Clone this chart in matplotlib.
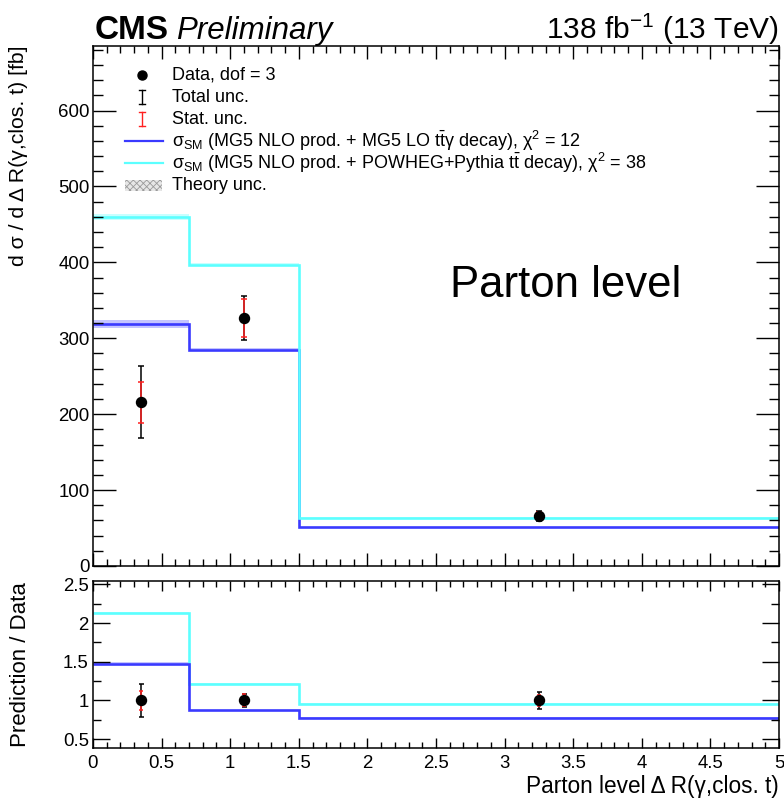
import numpy as np
import matplotlib
matplotlib.use("Agg")
import matplotlib.pyplot as plt
from matplotlib.patches import Rectangle
from matplotlib.lines import Line2D
from matplotlib.ticker import MultipleLocator, FixedLocator, FuncFormatter

plt.rcParams['font.family'] = ['Liberation Sans', 'DejaVu Sans']
plt.rcParams['mathtext.fontset'] = 'custom'
plt.rcParams['mathtext.rm'] = 'Liberation Sans'
plt.rcParams['mathtext.it'] = 'Liberation Sans:italic'
plt.rcParams['mathtext.bf'] = 'Liberation Sans:bold'
plt.rcParams['hatch.linewidth'] = 0.6

# ---- data -------------------------------------------------------------
bin_edges = [0.0, 0.7, 1.5, 5.0]
data_xsec = [216, 327, 66]          # fb
data_total_unc = [47, 29, 7]
data_stat_unc = [27, 25, 4.5]

mg5_lo_xsec = [319, 285, 51]        # MG5 NLO prod. + MG5 LO decay
mg5_lo_unc = [5, 2, 1]
powheg_xsec = [460, 397, 63]        # MG5 NLO prod. + POWHEG+Pythia decay
powheg_unc = [4, 2, 1]

chi2_mg5 = 12
chi2_powheg = 38
dof = 3

edges = np.array(bin_edges)
centers = 0.5 * (edges[:-1] + edges[1:])
data = np.array(data_xsec, float)
tot = np.array(data_total_unc, float)
stat = np.array(data_stat_unc, float)
mg5 = np.array(mg5_lo_xsec, float)
mg5u = np.array(mg5_lo_unc, float)
pw = np.array(powheg_xsec, float)
pwu = np.array(powheg_unc, float)

BLUE = '#3a3aff'
BLUE_BAND = '#c4c4ff'
CYAN = '#5cffff'
CYAN_BAND = '#c8ffff'
RED = '#ff2020'

W, H = 784, 802
fig = plt.figure(figsize=(W / 100, H / 100), dpi=100)


def fx(x):
    return x / W


def fy(y):
    return 1 - y / H


AX_L, AX_R = 93, 779
ax = fig.add_axes([fx(AX_L), fy(566), fx(AX_R) - fx(AX_L), fy(46) - fy(566)])
rax = fig.add_axes([fx(AX_L), fy(748), fx(AX_R) - fx(AX_L), fy(581) - fy(748)])

for a in (ax, rax):
    for s in a.spines.values():
        s.set_linewidth(1.1)

# ---- main panel -------------------------------------------------------
ax.stairs(mg5 + mg5u, edges, baseline=mg5 - mg5u, fill=True, color=BLUE_BAND, lw=0)
ax.stairs(pw + pwu, edges, baseline=pw - pwu, fill=True, color=CYAN_BAND, lw=0)
ax.stairs(mg5, edges, baseline=None, color=BLUE, lw=1.9)
ax.stairs(pw, edges, baseline=None, color=CYAN, lw=1.9)

ax.errorbar(centers, data, yerr=tot, fmt='none', ecolor='black', elinewidth=1.1,
            capsize=2.4, capthick=1.1, zorder=5)
ax.errorbar(centers, data, yerr=stat, fmt='none', ecolor=RED, elinewidth=1.1,
            capsize=2.0, capthick=1.1, zorder=6)
ax.plot(centers, data, 'o', color='black', ms=7.2, zorder=7)

ax.set_xlim(0, 5)
ax.set_ylim(0, 685)
ax.xaxis.set_major_locator(MultipleLocator(0.5))
ax.xaxis.set_minor_locator(MultipleLocator(0.1))
ax.yaxis.set_major_locator(MultipleLocator(100))
ax.yaxis.set_minor_locator(MultipleLocator(20))
ax.tick_params(axis='both', which='both', direction='in', top=True, right=True,
               width=1.0, labelsize=13.4, pad=2.5)
ax.tick_params(axis='y', which='major', length=16.5)
ax.tick_params(axis='y', which='minor', length=7.5)
ax.tick_params(axis='x', which='major', length=9.5)
ax.tick_params(axis='x', which='minor', length=5)
ax.tick_params(axis='x', labelbottom=False)
ax.set_ylabel('d σ / d Δ R(γ,clos. t) [fb]', fontsize=15.3, ha='right')
ax.yaxis.set_label_coords(-(AX_L - 28) / (AX_R - AX_L), 1.0)

# ---- ratio panel ------------------------------------------------------
r_mg5 = mg5 / data
r_mg5u = mg5u / data
r_pw = pw / data
r_pwu = pwu / data
ones = np.ones_like(data)

rax.stairs(r_mg5 + r_mg5u, edges, baseline=r_mg5 - r_mg5u, fill=True, color=BLUE_BAND, lw=0)
rax.stairs(r_pw + r_pwu, edges, baseline=r_pw - r_pwu, fill=True, color=CYAN_BAND, lw=0)
rax.stairs(r_pw, edges, baseline=None, color=CYAN, lw=1.9)
rax.stairs(r_mg5, edges, baseline=None, color=BLUE, lw=1.9)
rax.errorbar(centers, ones, yerr=tot / data, fmt='none', ecolor='black', elinewidth=1.1,
             capsize=1.8, capthick=1.1, zorder=5)
rax.errorbar(centers, ones, yerr=stat / data, fmt='none', ecolor=RED, elinewidth=1.1,
             capsize=1.5, capthick=1.1, zorder=6)
rax.plot(centers, ones, 'o', color='black', ms=7.2, zorder=7)

rax.set_xlim(0, 5)
rax.set_ylim(0.385, 2.543)


def short(v, pos):
    s = f'{v:.1f}'
    return s[:-2] if s.endswith('.0') else s


rax.xaxis.set_major_locator(MultipleLocator(0.5))
rax.xaxis.set_minor_locator(MultipleLocator(0.1))
rax.yaxis.set_major_locator(FixedLocator([0.5, 1.0, 1.5, 2.0, 2.5]))
rax.yaxis.set_minor_locator(FixedLocator([0.75, 1.25, 1.75, 2.25]))
rax.xaxis.set_major_formatter(FuncFormatter(short))
rax.yaxis.set_major_formatter(FuncFormatter(short))
rax.tick_params(axis='both', which='both', direction='in', top=True, right=True,
                width=1.0, labelsize=13.4)
rax.tick_params(axis='y', which='major', length=12, pad=3)
rax.tick_params(axis='y', which='minor', length=6)
rax.tick_params(axis='x', which='major', length=7, pad=5)
rax.tick_params(axis='x', which='minor', length=4)
rax.set_ylabel('Prediction / Data', fontsize=16)
rax.yaxis.set_label_coords(-(AX_L - 31) / (AX_R - AX_L), 0.5)
rax.set_xlabel('Parton level Δ R(γ,clos. t)', fontsize=16.3, ha='right')
rax.xaxis.set_label_coords(1.0, -(775 - 748) / (748 - 581))

# ---- header -----------------------------------------------------------
fig.text(fx(95), fy(39), 'CMS', fontsize=24, fontweight='bold', ha='left', va='baseline')
fig.text(fx(176), fy(39), 'Preliminary', fontsize=22.5, fontstyle='italic', ha='left', va='baseline')
fig.text(fx(779), fy(39), r'138 fb$^{-1}$ (13 TeV)', fontsize=21.5, ha='right', va='baseline')

# ---- legend -----------------------------------------------------------
leg_fs = 13
text_x = 172
rows = [75, 97, 119, 141, 163, 185]
labels = [
    f'Data, dof = {dof}',
    'Total unc.',
    'Stat. unc.',
    r'σ$_{\rm SM}$ (MG5 NLO prod. + MG5 LO t$\bar{\rm t}$γ decay), χ$^{2}$ = ' + f'{chi2_mg5}',
    r'σ$_{\rm SM}$ (MG5 NLO prod. + POWHEG+Pythia t$\bar{\rm t}$ decay), χ$^{2}$ = ' + f'{chi2_powheg}',
    'Theory unc.',
]
for y, lab in zip(rows, labels):
    fig.text(fx(text_x), fy(y), lab, fontsize=leg_fs, ha='left', va='center')

tf = fig.transFigure
fig.add_artist(Line2D([fx(142)], [fy(75)], marker='o', ms=6.5, color='black', transform=tf))
for y, c in ((97, 'black'), (119, RED)):
    fig.add_artist(Line2D([fx(142), fx(142)], [fy(y - 7), fy(y + 7)], color=c, lw=1.0, transform=tf))
    for yy in (y - 7, y + 7):
        fig.add_artist(Line2D([fx(139), fx(145)], [fy(yy), fy(yy)], color=c, lw=1.0, transform=tf))
fig.add_artist(Line2D([fx(125), fx(163)], [fy(141), fy(141)], color=BLUE, lw=1.6, transform=tf))
fig.add_artist(Line2D([fx(125), fx(163)], [fy(163), fy(163)], color=CYAN, lw=1.6, transform=tf))
fig.add_artist(Rectangle((fx(125), fy(191)), fx(162) - fx(125), fy(180) - fy(191), transform=tf,
                         facecolor='#e6e6e6', edgecolor='#9a9a9a', hatch='xxxxx', lw=0))

# ---- annotation -------------------------------------------------------
ax.text(2.60, 355, 'Parton level', fontsize=31.5, ha='left', va='baseline', color='black')

fig.savefig('out.png', dpi=100)
